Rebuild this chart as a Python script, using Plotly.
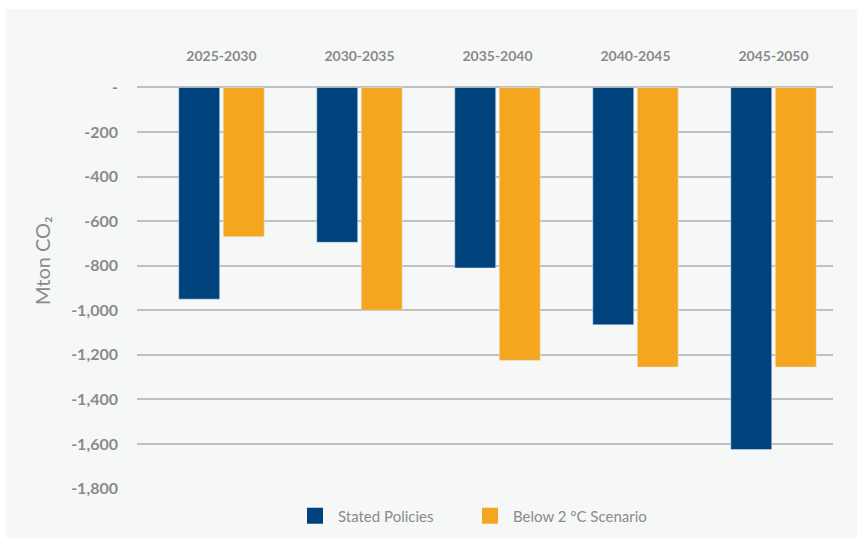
import plotly.graph_objects as go

# ---- data ----
periods = ["2025-2030", "2030-2035", "2035-2040", "2040-2045", "2045-2050"]
stated_policies = [-950, -695, -810, -1065, -1625]
below_2c = [-670, -1000, -1225, -1255, -1255]
ytick_vals = [0, -200, -400, -600, -800, -1000, -1200, -1400, -1600, -1800]
ytick_text = ["-", "-200", "-400", "-600", "-800", "-1,000", "-1,200", "-1,400", "-1,600", "-1,800"]
series_names = ["Stated Policies", "Below 2 °C Scenario"]
y_title = "Mton CO₂"

BLUE = "#00427c"
ORANGE = "#f4a620"
GRAY_TXT = "#8a8a8a"
BG = "#f6f8f8"

W, H = 857, 539
ML, MR, MT, MB = 137, 24, 87, 50
pw = W - ML - MR
ph = H - MT - MB

fig = go.Figure()
fig.add_trace(go.Bar(x=periods, y=stated_policies, name=series_names[0],
                     marker=dict(color=BLUE), showlegend=False))
fig.add_trace(go.Bar(x=periods, y=below_2c, name=series_names[1],
                     marker=dict(color=ORANGE), showlegend=False))
# legend entries (one legend box per series so they can be spaced freely)
for nm, col, lg in zip(series_names, [BLUE, ORANGE], ["legend", "legend2"]):
    fig.add_trace(go.Scatter(x=[None], y=[None], mode="markers", name=nm, legend=lg,
                             marker=dict(symbol="square", size=17, color=col)))

def px2x(p):
    return (p - ML) / pw

def px2y(p):
    return (H - MB - p) / ph

legend_common = dict(orientation="h", y=px2y(516), xanchor="left", yanchor="middle",
                     font=dict(size=15, color=GRAY_TXT, family="Lato"),
                     itemsizing="trace", itemwidth=36, bgcolor="rgba(0,0,0,0)")

fig.update_layout(
    width=W, height=H,
    margin=dict(l=ML, r=MR, t=MT, b=MB, pad=0, autoexpand=False),
    paper_bgcolor="white",
    plot_bgcolor="rgba(0,0,0,0)",
    barmode="group", bargap=0.355, bargroupgap=0.08,
    font=dict(family="Lato", color=GRAY_TXT),
    showlegend=True,
    legend=dict(x=px2x(292), **legend_common),
    legend2=dict(x=px2x(467), **legend_common),
    xaxis=dict(type="category", side="top", range=[-0.612, 4.431],
               showgrid=False, showline=False, zeroline=False, ticks="",
               ticklabelstandoff=22,
               tickfont=dict(size=14, color=GRAY_TXT, family="Lato", weight="bold")),
    yaxis=dict(range=[-1802, 2], tickvals=ytick_vals, ticktext=ytick_text,
               showgrid=True, gridcolor="#c0c0c0", gridwidth=1.5,
               zeroline=True, zerolinecolor="#c0c0c0", zerolinewidth=1.5,
               showline=False, ticks="", ticklabelstandoff=18,
               tickfont=dict(size=16, color=GRAY_TXT, family="Lato", weight="bold")),
    shapes=[dict(type="rect", xref="paper", yref="paper", layer="below",
                 x0=px2x(6), x1=px2x(W + 2), y0=px2y(538), y1=px2y(9),
                 fillcolor=BG, line=dict(width=0))],
    annotations=[dict(text=y_title, xref="paper", yref="paper", x=px2x(42), y=px2y(260),
                      textangle=-90, showarrow=False, xanchor="center", yanchor="middle",
                      font=dict(size=20, color=GRAY_TXT, family="Lato"))],
)

fig.write_html("out.html", config={"displayModeBar": False},
               post_script="document.body.style.margin='0';")
